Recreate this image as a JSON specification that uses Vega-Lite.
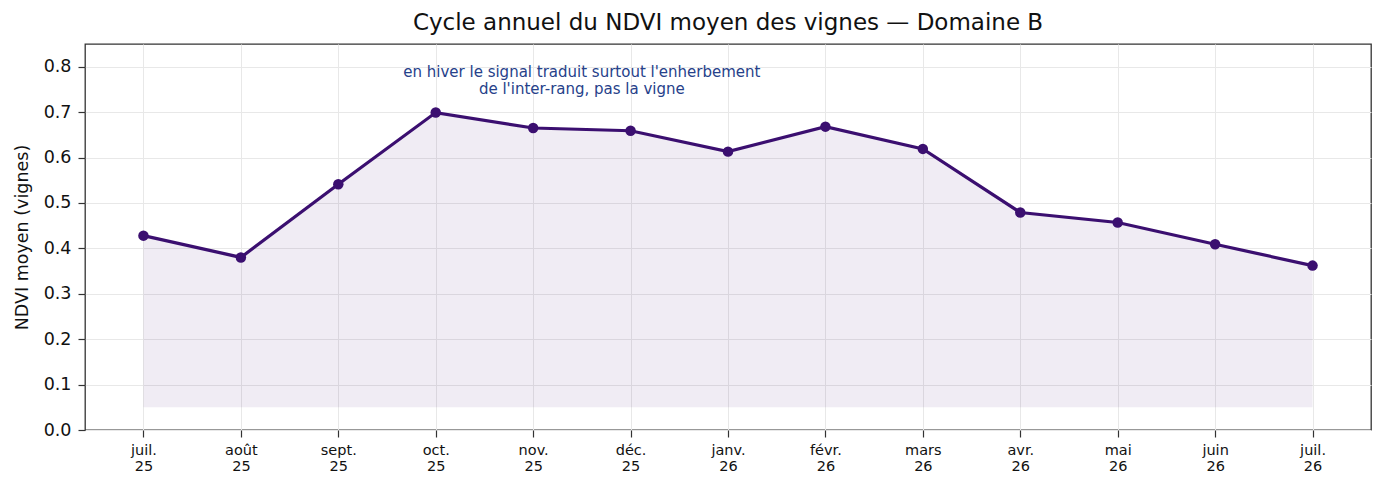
{
  "$schema": "https://vega.github.io/schema/vega-lite/v6.json",
  "width": 1286,
  "height": 386,
  "autosize": "none",
  "padding": {"left": 85, "top": 44, "right": 14, "bottom": 60},
  "background": "white",
  "config": {
    "font": "DejaVu Sans",
    "view": {"stroke": "#333333", "strokeWidth": 1.3},
    "axis": {"domain": false, "tickColor": "#333333", "tickSize": 7, "tickWidth": 1.2, "labelColor": "#111111", "titleColor": "#111111", "gridColor": "#e8e8e8", "gridWidth": 1, "labelFont": "DejaVu Sans", "titleFont": "DejaVu Sans", "titleFontWeight": "normal"}
  },
  "title": {"text": "Cycle annuel du NDVI moyen des vignes — Domaine B", "fontSize": 23, "fontWeight": "normal", "font": "DejaVu Sans", "color": "#111111", "offset": 9, "anchor": "middle"},
  "datasets": {
    "ndvi": [
      {"idx": 0, "mois": "juil.", "annee": "25", "ndvi": 0.428, "base": 0.05},
      {"idx": 1, "mois": "août", "annee": "25", "ndvi": 0.380, "base": 0.05},
      {"idx": 2, "mois": "sept.", "annee": "25", "ndvi": 0.541, "base": 0.05},
      {"idx": 3, "mois": "oct.", "annee": "25", "ndvi": 0.699, "base": 0.05},
      {"idx": 4, "mois": "nov.", "annee": "25", "ndvi": 0.665, "base": 0.05},
      {"idx": 5, "mois": "déc.", "annee": "25", "ndvi": 0.659, "base": 0.05},
      {"idx": 6, "mois": "janv.", "annee": "26", "ndvi": 0.613, "base": 0.05},
      {"idx": 7, "mois": "févr.", "annee": "26", "ndvi": 0.668, "base": 0.05},
      {"idx": 8, "mois": "mars", "annee": "26", "ndvi": 0.619, "base": 0.05},
      {"idx": 9, "mois": "avr.", "annee": "26", "ndvi": 0.479, "base": 0.05},
      {"idx": 10, "mois": "mai", "annee": "26", "ndvi": 0.457, "base": 0.05},
      {"idx": 11, "mois": "juin", "annee": "26", "ndvi": 0.409, "base": 0.05},
      {"idx": 12, "mois": "juil.", "annee": "26", "ndvi": 0.362, "base": 0.05}
    ],
    "note": [
      {"idx": 4.5, "ndvi": 0.788, "texte": ["en hiver le signal traduit surtout l'enherbement", "de l'inter-rang, pas la vigne"]}
    ]
  },
  "encoding": {
    "x": {"field": "idx", "type": "quantitative", "scale": {"domain": [-0.6, 12.6], "nice": false, "zero": false},
      "axis": {"title": null, "values": [0,1,2,3,4,5,6,7,8,9,10,11,12], "grid": true, "labelFontSize": 14.5, "labelPadding": 6, "labelLineHeight": 16,
        "labelExpr": "[['juil.','25'],['août','25'],['sept.','25'],['oct.','25'],['nov.','25'],['déc.','25'],['janv.','26'],['févr.','26'],['mars','26'],['avr.','26'],['mai','26'],['juin','26'],['juil.','26']][datum.value]"}},
    "y": {"field": "ndvi", "type": "quantitative", "scale": {"domain": [0, 0.85], "nice": false},
      "axis": {"title": "NDVI moyen (vignes)", "values": [0,0.1,0.2,0.3,0.4,0.5,0.6,0.7,0.8], "format": ".1f", "grid": true, "labelFontSize": 17.5, "titleFontSize": 17.5, "labelPadding": 7, "titlePadding": 12}}
  },
  "layer": [
    {"data": {"name": "ndvi"}, "mark": {"type": "area", "color": "#3b0f70", "opacity": 0.08}, "encoding": {"y2": {"field": "base"}}},
    {"data": {"name": "ndvi"}, "mark": {"type": "line", "color": "#3b0f70", "strokeWidth": 3.2}},
    {"data": {"name": "ndvi"}, "mark": {"type": "point", "filled": true, "opacity": 1, "color": "#3b0f70", "size": 110}},
    {"data": {"name": "note"}, "mark": {"type": "text", "color": "#26418a", "fontSize": 15, "lineHeight": 17, "align": "center", "baseline": "middle"}, "encoding": {"text": {"field": "texte"}}}
  ]
}
